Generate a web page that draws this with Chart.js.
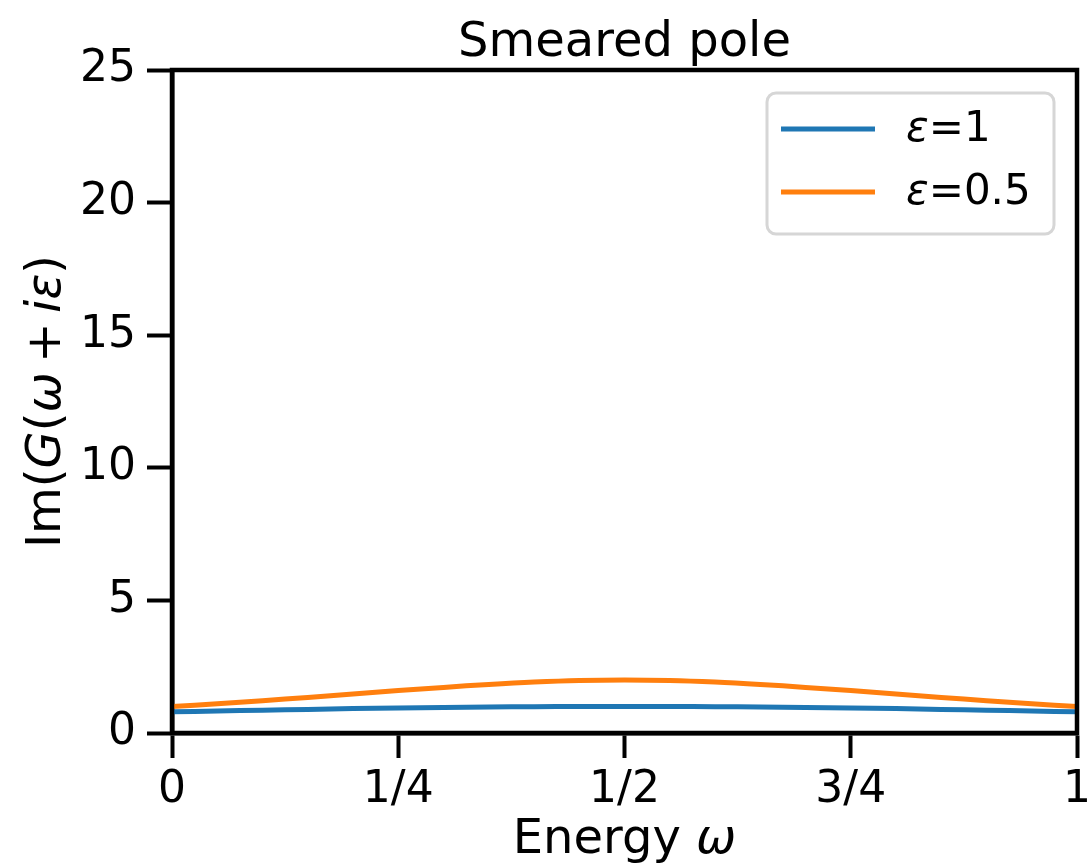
<!DOCTYPE html>
<html>
<head>
<meta charset="utf-8">
<script src="https://cdn.jsdelivr.net/npm/chart.js@4"></script>
<style>
  html, body { margin: 0; padding: 0; background: #fff; }
  #wrap { width: 1090px; height: 863px; }
</style>
</head>
<body>
<div id="wrap"><canvas id="poleChart"></canvas></div>
<script>
// Energy grid and Im G values for the two broadenings
const omega = [0, 0.05, 0.1, 0.15, 0.2, 0.25, 0.3, 0.35, 0.4, 0.45, 0.5,
               0.55, 0.6, 0.65, 0.7, 0.75, 0.8, 0.85, 0.9, 0.95, 1];
const imEps1 = [0.80, 0.83, 0.86, 0.89, 0.92, 0.94, 0.96, 0.98, 0.99, 1.00, 1.00,
                1.00, 0.99, 0.98, 0.96, 0.94, 0.92, 0.89, 0.86, 0.83, 0.80];
const imEps05 = [1.00, 1.10, 1.22, 1.34, 1.47, 1.60, 1.72, 1.83, 1.92, 1.98, 2.00,
                 1.98, 1.92, 1.83, 1.72, 1.60, 1.47, 1.34, 1.22, 1.10, 1.00];
const seriesNames = ['1', '0.5'];
const xTickLabels = { 0: '0', 0.25: '1/4', 0.5: '1/2', 0.75: '3/4', 1: '1' };

const FONT = "'DejaVu Sans', sans-serif";
const BLUE = '#1f77b4';
const ORANGE = '#ff7f0e';

const toPoints = (ys) => omega.map((x, i) => ({ x, y: ys[i] }));

// draw a row of text pieces, some italic, starting at x
function drawPieces(ctx, pieces, x, y, size, align) {
  const fontOf = (p) => (p.it ? 'oblique ' : '') + size + 'px ' + FONT;
  let total = 0;
  pieces.forEach(p => { ctx.font = fontOf(p); total += ctx.measureText(p.t).width; });
  let cx = align === 'center' ? x - total / 2 : x;
  ctx.textAlign = 'left';
  pieces.forEach(p => {
    ctx.font = fontOf(p);
    ctx.fillText(p.t, cx, y);
    cx += ctx.measureText(p.t).width;
  });
}

// frame, title, axis titles and legend box
const decorations = {
  id: 'decorations',
  afterDatasetsDraw(chart) {
    const { ctx, chartArea: a } = chart;
    ctx.save();
    ctx.strokeStyle = '#000';
    ctx.lineWidth = 4.5;
    ctx.strokeRect(a.left, a.top, a.right - a.left, a.bottom - a.top);
    ctx.restore();
  },
  afterDraw(chart) {
    const { ctx, chartArea: a } = chart;
    const midX = (a.left + a.right) / 2;
    ctx.save();
    ctx.fillStyle = '#000';
    ctx.textBaseline = 'alphabetic';

    drawPieces(ctx, [{ t: 'Smeared pole' }], midX, 56, 48, 'center');

    // x title
    drawPieces(ctx, [{ t: 'Energy ' }, { t: 'ω', it: true }], midX, 853, 48, 'center');

    // y title, rotated
    ctx.save();
    ctx.translate(60, (a.top + a.bottom) / 2);
    ctx.rotate(-Math.PI / 2);
    drawPieces(ctx, [
      { t: 'Im(' }, { t: 'G', it: true }, { t: '(' }, { t: 'ω', it: true },
      { t: '\u2009+\u2009' }, { t: 'iε', it: true }, { t: ')' }
    ], 0, 0, 48, 'center');
    ctx.restore();

    // legend
    const lx = 767, ly = 93, lw = 287, lh = 141;
    ctx.beginPath();
    ctx.roundRect(lx, ly, lw, lh, 9);
    ctx.fillStyle = 'rgba(255,255,255,0.8)';
    ctx.fill();
    ctx.lineWidth = 3;
    ctx.strokeStyle = '#d6d6d6';
    ctx.stroke();

    chart.data.datasets.forEach((ds, i) => {
      const y = 129 + i * 63;
      ctx.beginPath();
      ctx.moveTo(781, y);
      ctx.lineTo(875, y);
      ctx.lineWidth = 5;
      ctx.strokeStyle = ds.borderColor;
      ctx.stroke();
      ctx.fillStyle = '#000';
      ctx.textBaseline = 'middle';
      drawPieces(ctx, [{ t: 'ε', it: true }, { t: '=' + seriesNames[i] }], 906, y + 1, 42, 'left');
    });
    ctx.restore();
  }
};

new Chart(document.getElementById('poleChart'), {
  type: 'line',
  data: {
    datasets: [{
      label: 'ε=' + seriesNames[0],
      data: toPoints(imEps1),
      borderColor: BLUE,
      borderWidth: 5,
      pointRadius: 0,
      tension: 0.4,
      order: 2
    }, {
      label: 'ε=' + seriesNames[1],
      data: toPoints(imEps05),
      borderColor: ORANGE,
      borderWidth: 5,
      pointRadius: 0,
      tension: 0.4,
      order: 1
    }]
  },
  options: {
    responsive: true,
    maintainAspectRatio: false,
    animation: false,
    layout: { padding: { left: 0, right: 13, top: 70, bottom: 0 } },
    scales: {
      x: {
        type: 'linear', min: 0, max: 1,
        afterFit: (s) => { s.height = 130; },
        afterBuildTicks: (s) => { s.ticks = Object.keys(xTickLabels).map(v => ({ value: +v })); },
        ticks: {
          color: '#000', padding: 6, maxRotation: 0,
          font: { family: FONT, size: 44 },
          callback: (v) => xTickLabels[v]
        },
        grid: { drawOnChartArea: false, drawTicks: true, tickLength: 25, tickWidth: 4, tickColor: '#000' },
        border: { color: '#000', width: 4.5 }
      },
      y: {
        min: 0, max: 25,
        afterFit: (s) => { s.width = 172; },
        ticks: {
          stepSize: 5, color: '#000', padding: 11,
          font: { family: FONT, size: 44 }
        },
        grid: { drawOnChartArea: false, drawTicks: true, tickLength: 25, tickWidth: 4, tickColor: '#000' },
        border: { color: '#000', width: 4.5 }
      }
    },
    plugins: {
      legend: { display: false },
      tooltip: { enabled: false },
      title: { display: false }
    }
  },
  plugins: [decorations]
});
</script>
</body>
</html>
